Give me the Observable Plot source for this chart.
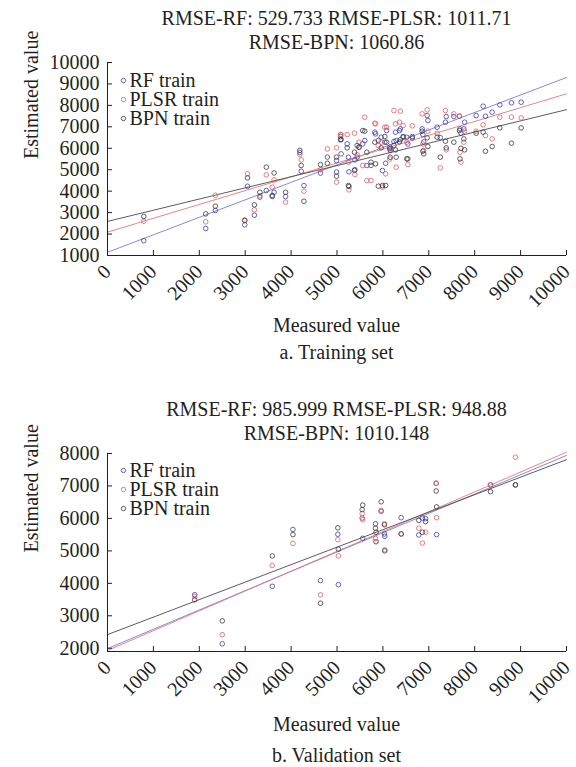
<!DOCTYPE html>
<html><head><meta charset="utf-8">
<script src="https://cdn.jsdelivr.net/npm/d3@7"></script>
<script src="https://cdn.jsdelivr.net/npm/@observablehq/plot@0.6"></script>
<style>
body{margin:0;background:#fff;}
#wrap{position:relative;width:576px;height:767px;font-family:'Liberation Serif','DejaVu Serif','Noto Serif',serif;color:#231f20;overflow:hidden;}
.t{position:absolute;left:107px;width:459px;text-align:center;font-size:20px;line-height:24px;white-space:nowrap;font-family:'Liberation Serif','DejaVu Serif',serif;}
.p{position:absolute;left:0;}
svg text{font-family:'Liberation Serif','DejaVu Serif',serif !important;}
</style></head><body>
<div id="wrap">
  <div class="t" style="top:6px">RMSE-RF: 529.733 RMSE-PLSR: 1011.71<br>RMSE-BPN: 1060.86</div>
  <div class="p" id="p1" style="top:0px"></div>
  <div class="t" style="top:313px">Measured value</div>
  <div class="t" style="top:340px">a. Training set</div>
  <div class="t" style="top:397px">RMSE-RF: 985.999 RMSE-PLSR: 948.88<br>RMSE-BPN: 1010.148</div>
  <div class="p" id="p2" style="top:391px"></div>
  <div class="t" style="top:712px">Measured value</div>
  <div class="t" style="top:743px">b. Validation set</div>
</div>
<script>
// ---- data ----
const seriesNames = ["RF train", "PLSR train", "BPN train"];
const pointColors = ["#3d3daa", "#dd5f5f", "#3a3a3a"];
const lineColors = ["#7c7cd8", "#e47878", "#4a4a4a"];
const xTicks = [0, 1000, 2000, 3000, 4000, 5000, 6000, 7000, 8000, 9000, 10000];
const trainYTicks = [1000, 2000, 3000, 4000, 5000, 6000, 7000, 8000, 9000, 10000];
const validYTicks = [2000, 3000, 4000, 5000, 6000, 7000, 8000];

const trainMeasured = [790,2140,2350,2990,3050,3200,3320,3460,3590,3630,3880,4190,4220,4280,4640,4790,4990,4990,5076,5090,5221,5250,5260,5381,5390,5439,5480,5560,5606,5650,5740,5824,5840,5900,5962,5990,6042,6060,6080,6151,6160,6240,6274,6290,6361,6380,6441,6520,6543,6640,6855,6870,6890,6964,6980,7182,7250,7363,7380,7545,7668,7680,7700,7763,7780,8031,8184,8235,8380,8547,8801,9012];
const trainRF = [1690,2260,3100,2430,4230,2880,3720,4030,3750,3950,3750,5800,4930,4260,4840,5590,5430,4890,6548,5740,6206,5584,4900,4963,5460,5584,6050,6206,6361,5196,5200,6750,6672,6361,6517,4963,6284,5300,6827,6050,5900,6314,6750,6361,6828,6905,6517,6517,6200,6548,6905,6641,6300,7527,7294,6983,6500,7216,7480,7480,7496,6905,6703,6905,7216,7527,7962,7496,7683,8024,8118,8149];
const trainPLSR = [2600,2570,3810,2660,4810,3130,3780,4760,4190,4530,3490,5700,5460,4000,5000,5970,6020,4420,6641,6625,6641,5351,4062,6703,4777,5700,6283,5196,7449,4496,4497,7170,7138,6128,6284,4186,6983,4808,6983,5500,6000,7760,7138,5118,7216,7729,7061,6283,5243,7045,7605,6200,5900,7791,6800,6700,5087,7760,5926,7605,7496,5817,5351,6284,6800,6797,7092,6595,6439,7449,7449,7418];
const trainBPN = [2820,2940,3300,2630,4620,3360,3950,5120,3800,4850,3950,5900,5200,3530,5240,5300,5590,4700,6392,6408,6020,4263,4217,5817,5000,6128,6050,6827,6797,5817,5351,6284,5273,4232,6020,4264,6548,4264,6283,5973,5584,6128,5926,5584,6300,6400,6548,5506,5507,6486,6797,5864,5740,6486,6082,6517,5584,6330,6020,6284,6828,5507,6000,6439,5926,6703,6750,5864,6082,6952,6237,6952];

const validMeasured = [1900,2500,3590,4040,4640,5018,5030,5548,5560,5838,5850,5962,6034,6040,6398,6782,6860,6930,7160,7170,8344,8888];
const validRF = [3650,2137,3908,5658,4085,5512,3960,6012,5387,5835,5283,6220,5522,5449,6022,5491,6012,5991,7085,5501,7033,7033];
const validPLSR = [3600,2418,4553,5230,3647,5345,4845,6147,5960,5387,5283,6251,5835,5033,5522,5699,5241,5574,7085,6022,7033,7887];
const validBPN = [3490,2844,4845,5501,3387,5710,5053,6272,6408,5699,5574,6512,5803,5001,5522,5939,5574,5900,6845,6356,6824,7033];

// fitted lines read at x = 0 and x = 10000
const fitX = [0, 10000];
const trainFitRF = [1150, 9300];
const trainFitPLSR = [2090, 8540];
const trainFitBPN = [2590, 7800];
const validFitRF = [1990, 7940];
const validFitPLSR = [1930, 8040];
const validFitBPN = [2420, 7810];

const FONT = "'Liberation Serif', 'DejaVu Serif', serif";

function panel(measured, series, fits, yDomain, yTicks, plotH, legendDy) {
  const marks = [];
  series.forEach((vals, k) => {
    const rows = fitX.map((x, i) => ({x, y: fits[k][i]}));
    marks.push(Plot.line(rows, {x: "x", y: "y", stroke: lineColors[k], strokeWidth: 0.9}));
  });
  series.forEach((vals, k) => {
    const rows = measured.map((x, i) => ({x, y: vals[i]}));
    marks.push(Plot.dot(rows, {x: "x", y: "y", r: 2.3, stroke: pointColors[k], strokeWidth: 0.8, fill: "none"}));
  });
  seriesNames.forEach((name, k) => {
    marks.push(Plot.dot([name], {frameAnchor: "top-left", dx: 16, dy: legendDy + k * 19, r: 2.2, stroke: pointColors[k], strokeWidth: 0.8, fill: "none"}));
    marks.push(Plot.text([name], {frameAnchor: "top-left", dx: 22, dy: legendDy + k * 19, textAnchor: "start", lineAnchor: "middle", fontSize: 20, fill: "#231f20", fontFamily: FONT}));
  });
  marks.push(Plot.text(["Estimated value"], {frameAnchor: "left", dx: -76, rotate: -90, fontSize: 20, fill: "#231f20", fontFamily: FONT}));
  marks.push(Plot.ruleX([0], {stroke: "#231f20", strokeWidth: 1}));
  marks.push(Plot.ruleY([yDomain[0]], {stroke: "#231f20", strokeWidth: 1}));
  marks.push(Plot.axisY({ticks: yTicks, label: null, tickSize: -5, tickPadding: 13, tickFormat: d => String(d), fontSize: 20, fill: "#231f20", fontFamily: FONT}));
  marks.push(Plot.axisX({ticks: xTicks, label: null, tickSize: -5, tickPadding: 18, tickRotate: -45, tickFormat: d => String(d), fontSize: 20, fill: "#231f20", fontFamily: FONT}));
  return Plot.plot({
    width: 576,
    height: 62 + plotH + 60,
    marginTop: 62,
    marginBottom: 60,
    marginLeft: 107,
    marginRight: 10,
    x: {domain: [0, 10000], label: null},
    y: {domain: yDomain, label: null},
    style: {fontFamily: FONT, fontSize: "20px", color: "#231f20", background: "transparent"},
    marks
  });
}

document.getElementById("p1").append(panel(trainMeasured, [trainRF, trainPLSR, trainBPN], [trainFitRF, trainFitPLSR, trainFitBPN], [1000, 10000], trainYTicks, 193, 18));
document.getElementById("p2").append(panel(validMeasured, [validRF, validPLSR, validBPN], [validFitRF, validFitPLSR, validFitBPN], [1900, 8000], validYTicks, 198, 17));
</script>
</body></html>
